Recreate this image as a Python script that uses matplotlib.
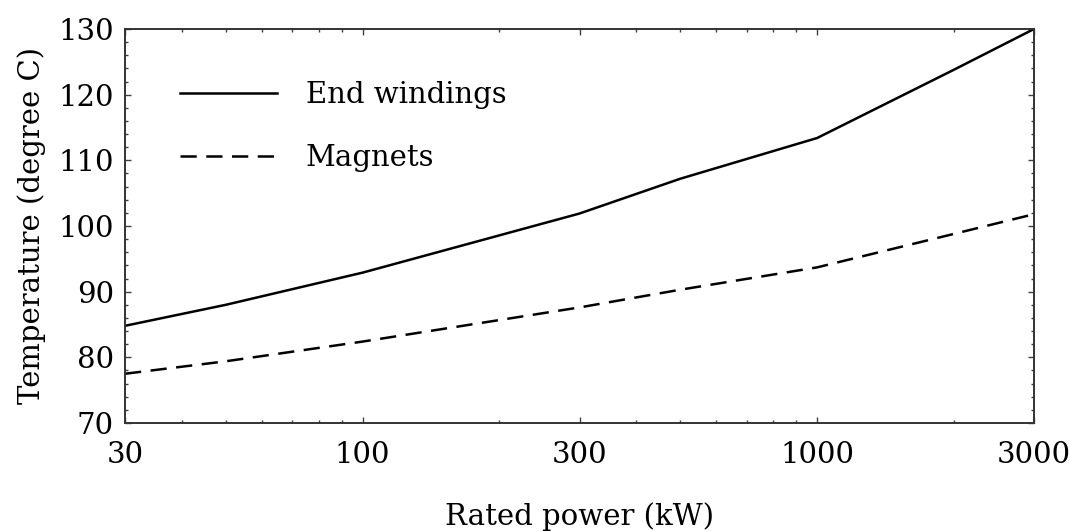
"""Rated power vs temperature of end windings and magnets (log x axis)."""
import matplotlib

matplotlib.use("Agg")
import matplotlib.pyplot as plt
from matplotlib.ticker import FixedLocator, LogLocator, NullFormatter

plt.rcParams["font.family"] = ["DejaVu Serif"]

# data
power_kw = [30, 50, 100, 300, 500, 1000, 2000, 3000]
end_windings = [84.8, 88.0, 92.9, 101.9, 107.2, 113.4, 123.8, 130.0]
magnets = [77.5, 79.4, 82.4, 87.6, 90.3, 93.7, 98.8, 101.8]

x_ticks = [30, 100, 300, 1000, 3000]
x_tick_labels = ["30", "100", "300", "1000", "3000"]
y_ticks = [70, 80, 90, 100, 110, 120, 130]

FS = 21

fig = plt.figure(figsize=(10.70, 5.31), dpi=100)
ax = fig.add_axes([125 / 1070, 1 - 423 / 531, (1034 - 125) / 1070, (423 - 29) / 531])

ax.plot(power_kw, end_windings, color="black", lw=1.8, label="End windings")
ax.plot(power_kw, magnets, color="black", lw=1.8, dashes=(6.5, 3.8), label="Magnets")

ax.set_xscale("log")
ax.set_xlim(30, 3000)
ax.set_ylim(70, 130)
ax.xaxis.set_major_locator(FixedLocator(x_ticks))
ax.set_xticklabels(x_tick_labels)
ax.xaxis.set_minor_locator(LogLocator(base=10, subs=range(2, 10)))
ax.xaxis.set_minor_formatter(NullFormatter())
ax.set_yticks(y_ticks)
ax.yaxis.set_minor_locator(FixedLocator(range(70, 131, 2)))

ax.tick_params(which="both", direction="in", top=True, right=True,
               labelsize=FS, color="0.25", width=1.0)
ax.tick_params(which="major", length=4.5)
ax.tick_params(which="minor", length=2.5)
ax.tick_params(axis="x", which="major", pad=13)
ax.tick_params(axis="y", which="major", pad=8)

for sp in ax.spines.values():
    sp.set_linewidth(1.4)
    sp.set_color("0.2")

ax.set_xlabel("Rated power (kW)", fontsize=FS, labelpad=24)
ax.set_ylabel("Temperature (degree C)", fontsize=FS, labelpad=9)

ax.legend(loc="upper left", bbox_to_anchor=(0.032, 0.935), frameon=False,
          fontsize=FS, handlelength=3.3, handletextpad=1.0, labelspacing=1.2)

fig.savefig("out.png", dpi=100)
